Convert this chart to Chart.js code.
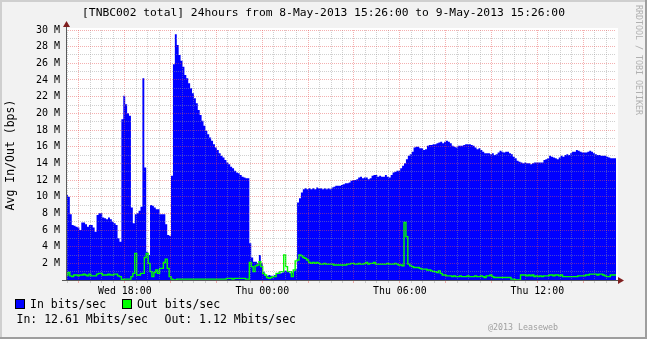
<!DOCTYPE html>
<html><head><meta charset="utf-8">
<script src="https://cdn.jsdelivr.net/npm/chart.js@4.4.1/dist/chart.umd.min.js"></script>
<style>html,body{margin:0;padding:0;background:#f2f2f2;}canvas{display:block;}</style>
</head><body>
<canvas id="c" width="647" height="339"></canvas>
<script>
// ---- data ----
const startMinute = 926;      // Wed 15:26 (minutes since Wed 00:00)
const stepMinutes = 5;
const spanMinutes = 1440;
// In bits/sec, in Mbit/s, one value per 5 minutes
const inValues = [
 10.3,10.2,10.0,7.9,6.6,6.5,6.4,6.3,6.0,6.9,
 6.9,6.7,6.4,6.6,6.6,6.3,5.8,7.8,8.0,8.0,
 7.5,7.4,7.3,7.5,7.3,7.0,6.8,6.6,5.0,4.6,
 19.3,22.1,21.1,20.0,19.7,8.7,6.8,7.9,8.0,8.3,
 8.8,24.2,13.5,3.4,3.0,9.0,8.9,8.7,8.5,8.5,
 7.9,7.9,7.9,6.7,5.4,5.3,12.5,25.9,29.5,28.2,
 27.0,26.3,25.6,24.6,24.2,23.6,23.0,22.4,21.8,21.2,
 20.4,19.8,19.1,18.5,17.9,17.5,17.1,16.7,16.3,15.9,
 15.6,15.2,14.9,14.7,14.4,14.1,13.9,13.6,13.4,13.1,
 12.9,12.8,12.6,12.4,12.3,12.2,12.2,4.4,2.7,2.2,
 2.2,2.0,3.0,2.0,1.0,0.5,0.5,0.6,0.5,0.5,
 0.6,0.8,0.9,0.8,0.9,1.1,1.1,1.0,0.8,0.9,
 1.1,1.3,9.3,9.8,10.5,10.9,11.0,10.9,11.0,10.9,
 11.0,10.9,11.1,11.0,11.0,10.9,11.0,10.9,11.0,10.9,
 11.1,11.2,11.3,11.3,11.3,11.4,11.5,11.6,11.6,11.7,
 11.9,12.0,12.0,12.1,12.3,12.4,12.2,12.3,12.3,12.1,
 12.2,12.5,12.6,12.6,12.4,12.5,12.4,12.4,12.6,12.4,
 12.3,12.6,12.9,13.0,13.1,13.1,13.4,13.7,14.0,14.5,
 14.9,15.1,15.4,15.9,16.0,16.0,15.8,15.8,15.6,15.7,
 16.1,16.2,16.2,16.3,16.3,16.4,16.5,16.6,16.4,16.6,
 16.7,16.6,16.4,16.1,16.0,15.9,16.1,16.1,16.1,16.2,
 16.3,16.3,16.3,16.2,16.1,15.9,15.7,15.8,15.6,15.4,
 15.2,15.2,15.2,15.1,15.2,15.0,15.1,15.3,15.5,15.4,
 15.3,15.4,15.4,15.2,15.1,14.8,14.6,14.3,14.2,14.1,
 14.0,14.1,14.0,14.0,13.9,14.0,14.1,14.1,14.1,14.1,
 14.1,14.4,14.5,14.6,14.9,14.8,14.7,14.6,14.5,14.7,
 14.9,14.8,15.0,15.1,15.0,15.2,15.4,15.4,15.6,15.5,
 15.4,15.3,15.3,15.3,15.4,15.5,15.4,15.2,15.1,15.0,
 15.0,14.9,14.9,14.9,14.8,14.7,14.6,14.6
];
// Out bits/sec, in Mbit/s
const outValues = [
 0.5,0.6,0.9,0.5,0.4,0.6,0.6,0.5,0.6,0.6,
 0.7,0.6,0.5,0.7,0.5,0.5,0.5,0.7,0.8,0.8,
 0.6,0.6,0.6,0.7,0.6,0.6,0.7,0.7,0.5,0.4,
 0.0,0.1,0.1,0.1,0.1,0.4,0.8,3.2,0.6,0.6,
 0.8,0.8,2.7,3.2,2.0,1.0,0.4,0.9,1.2,0.8,
 1.4,1.4,2.1,2.5,1.4,0.4,0.1,0.0,0.0,0.1,
 0.1,0.1,0.1,0.1,0.1,0.1,0.1,0.1,0.1,0.1,
 0.1,0.1,0.1,0.1,0.1,0.1,0.1,0.1,0.1,0.1,
 0.1,0.1,0.1,0.1,0.1,0.2,0.2,0.2,0.1,0.2,
 0.2,0.2,0.2,0.2,0.2,0.1,0.1,2.1,1.6,1.0,
 1.7,1.8,2.2,1.6,0.8,0.6,0.3,0.2,0.3,0.4,
 0.4,0.8,0.8,1.0,1.0,3.0,1.6,1.0,1.0,0.4,
 1.2,2.3,2.4,3.0,2.9,2.7,2.6,2.4,2.1,2.0,
 2.1,2.0,2.1,2.0,1.9,1.9,2.0,1.9,1.9,1.9,
 1.9,1.8,1.8,1.8,1.8,1.8,1.8,1.8,1.9,1.9,
 2.0,2.0,1.9,1.9,2.0,1.9,1.9,2.0,2.1,1.9,
 2.0,2.0,2.1,1.9,1.9,1.9,1.9,1.9,1.9,2.0,
 1.9,1.9,1.9,2.0,1.9,1.8,1.8,1.7,6.9,5.2,
 1.9,1.7,1.6,1.5,1.5,1.5,1.4,1.3,1.3,1.3,
 1.2,1.2,1.1,1.0,1.0,0.9,1.1,0.8,0.6,0.6,
 0.5,0.5,0.5,0.4,0.5,0.4,0.4,0.5,0.4,0.4,
 0.4,0.5,0.4,0.4,0.4,0.5,0.4,0.4,0.5,0.4,
 0.3,0.5,0.5,0.6,0.4,0.3,0.3,0.3,0.3,0.3,
 0.3,0.3,0.3,0.3,0.1,0.1,0.0,0.0,0.0,0.6,
 0.6,0.6,0.5,0.6,0.5,0.6,0.4,0.5,0.4,0.5,
 0.4,0.5,0.5,0.5,0.6,0.6,0.5,0.6,0.6,0.5,
 0.6,0.4,0.4,0.4,0.4,0.4,0.4,0.4,0.4,0.5,
 0.5,0.5,0.5,0.6,0.6,0.7,0.7,0.7,0.7,0.6,
 0.7,0.7,0.6,0.5,0.4,0.4,0.6,0.6
];
const xLabelMinutes = [1080, 1440, 1800, 2160];
const xLabelTexts = ['Wed 18:00', 'Thu 00:00', 'Thu 06:00', 'Thu 12:00'];
const yMax = 30;
const yLabelStep = 2;
const yUnit = ' M';
const titleText = '[TNBC002 total] 24hours from 8-May-2013 15:26:00 to 9-May-2013 15:26:00';
const yAxisTitle = 'Avg In/Out (bps)';
const legendLabels = ['In bits/sec', 'Out bits/sec'];
const statsTexts = ['In: 12.61 Mbits/sec', 'Out: 1.12 Mbits/sec'];
const creditText = '@2013 Leaseweb';
const watermarkText = 'RRDTOOL / TOBI OETIKER';

// ---- styles ----
const IN_COLOR = '#0000ff';
const OUT_COLOR = '#00ff00';
const MONO = '"DejaVu Sans Mono", monospace';
const MINOR = 'rgba(150,150,150,0.45)';
const MAJOR = 'rgba(230,80,80,0.45)';
const ARROW = 'rgb(128,31,31)';

function toPoints(vals) {
  const pts = vals.map((v, i) => ({x: startMinute + i * stepMinutes, y: v}));
  pts.push({x: startMinute + vals.length * stepMinutes, y: vals[vals.length - 1]});
  return pts;
}
const xGridMinutes = [];
for (let m = Math.ceil(startMinute / 30) * 30; m < startMinute + spanMinutes; m += 30) xGridMinutes.push(m);

const decor = {
  id: 'decor',
  beforeDraw(chart) {
    const ctx = chart.ctx, a = chart.chartArea, W = chart.width, H = chart.height;
    ctx.save();
    ctx.fillStyle = '#f2f2f2'; ctx.fillRect(0, 0, W, H);
    ctx.fillStyle = '#cfcfcf'; ctx.fillRect(0, 0, W, 2); ctx.fillRect(0, 0, 2, H);
    ctx.fillStyle = '#9e9e9e'; ctx.fillRect(W - 2, 0, 2, H); ctx.fillRect(0, H - 2, W, 2);
    ctx.fillStyle = '#ffffff'; ctx.fillRect(a.left, a.top - 2, a.right - a.left + 2, a.bottom - a.top + 2);
    ctx.restore();
  },
  afterDraw(chart) {
    const ctx = chart.ctx, a = chart.chartArea, W = chart.width;
    ctx.save();
    // axes
    ctx.strokeStyle = '#5a5a5a'; ctx.lineWidth = 1;
    ctx.beginPath();
    ctx.moveTo(a.left + 0.5, a.bottom + 1); ctx.lineTo(a.left + 0.5, a.top - 7);
    ctx.moveTo(a.left - 4, a.bottom + 0.5); ctx.lineTo(a.right + 4, a.bottom + 0.5);
    ctx.stroke();
    ctx.fillStyle = ARROW;
    ctx.beginPath();
    ctx.moveTo(a.left + 0.5, a.top - 9); ctx.lineTo(a.left - 3, a.top - 3); ctx.lineTo(a.left + 4, a.top - 3); ctx.closePath(); ctx.fill();
    ctx.beginPath();
    ctx.moveTo(a.right + 8, a.bottom + 0.5); ctx.lineTo(a.right + 2, a.bottom - 3); ctx.lineTo(a.right + 2, a.bottom + 4); ctx.closePath(); ctx.fill();
    // title
    ctx.fillStyle = '#000'; ctx.textBaseline = 'middle';
    ctx.font = '11.3px ' + MONO; ctx.textAlign = 'center';
    ctx.fillText(titleText, W / 2, 13);
    // y axis title
    ctx.save(); ctx.translate(11, (a.top + a.bottom) / 2); ctx.rotate(-Math.PI / 2);
    ctx.font = '11.5px ' + MONO; ctx.textAlign = 'center'; ctx.fillText(yAxisTitle, 0, 0);
    ctx.restore();
    // legend
    ctx.font = '11.5px ' + MONO; ctx.textAlign = 'left';
    const boxes = [[15, IN_COLOR, 30], [122, OUT_COLOR, 137]];
    boxes.forEach((b, i) => {
      ctx.fillStyle = b[1]; ctx.fillRect(b[0], 300, 9, 9);
      ctx.strokeStyle = '#000'; ctx.lineWidth = 1; ctx.strokeRect(b[0] + 0.5, 299.5, 9, 9);
      ctx.fillStyle = '#000'; ctx.fillText(legendLabels[i], b[2], 305);
    });
    ctx.fillText(statsTexts[0], 16.5, 320);
    ctx.fillText(statsTexts[1], 164.5, 320);
    // credit
    ctx.fillStyle = '#a0a0a0'; ctx.font = '8.3px ' + MONO;
    ctx.fillText(creditText, 488, 328);
    // watermark
    ctx.save(); ctx.translate(638, 5); ctx.rotate(Math.PI / 2);
    ctx.fillStyle = '#b0b0b0'; ctx.font = '8.3px ' + MONO; ctx.textAlign = 'left';
    ctx.fillText(watermarkText, 0, 0);
    ctx.restore();
    ctx.restore();
  }
};

new Chart(document.getElementById('c'), {
  type: 'line',
  data: {
    datasets: [
      {label: legendLabels[1], data: toPoints(outValues), borderColor: OUT_COLOR, borderWidth: 1.4,
       pointRadius: 0, stepped: 'after', fill: false, order: 1},
      {label: legendLabels[0], data: toPoints(inValues), backgroundColor: IN_COLOR, borderColor: 'rgba(0,0,0,0)',
       borderWidth: 0, pointRadius: 0, stepped: 'after', fill: 'origin', order: 2}
    ]
  },
  options: {
    responsive: false, animation: false, devicePixelRatio: 1,
    layout: {padding: {left: 0, right: 31, top: 30, bottom: 39}},
    plugins: {legend: {display: false}, title: {display: false}, tooltip: {enabled: false}},
    scales: {
      x: {
        type: 'linear', min: startMinute, max: startMinute + spanMinutes,
        afterBuildTicks: (s) => { s.ticks = xGridMinutes.map(v => ({value: v})); },
        afterFit: (s) => { s.height = 20; },
        ticks: {autoSkip: false, maxRotation: 0, minRotation: 0, padding: 2, color: '#000',
          font: {family: MONO, size: 9.9},
          callback: (v) => { const k = xLabelMinutes.indexOf(v); return k >= 0 ? xLabelTexts[k] : ''; }},
        grid: {z: 1, lineWidth: 1, drawTicks: true, tickLength: 3,
          color: (c) => (c.tick && c.tick.value % 120 === 0) ? MAJOR : MINOR,
          tickColor: (c) => (c.tick && c.tick.value % 120 === 0) ? MAJOR : MINOR},
        border: {display: false, dash: [1, 1]}
      },
      y: {
        min: 0, max: yMax,
        afterFit: (s) => { s.width = 66; },
        ticks: {stepSize: 1, autoSkip: false, padding: 6, color: '#000', font: {family: MONO, size: 10},
          callback: (v) => (v > 0 && v % yLabelStep === 0) ? v + yUnit : ''},
        grid: {z: 1, lineWidth: 1, drawTicks: false,
          color: (c) => (c.tick && c.tick.value % 2 === 0) ? MAJOR : MINOR},
        border: {display: false, dash: [1, 1]}
      }
    }
  },
  plugins: [decor]
});
</script>
</body></html>
